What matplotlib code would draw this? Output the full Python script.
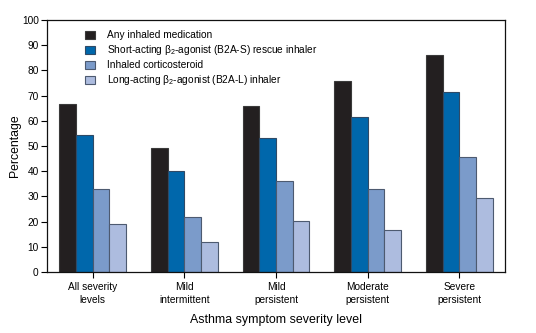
import matplotlib
matplotlib.use("Agg")
import matplotlib.pyplot as plt
import numpy as np

plt.rcParams['font.family'] = ['Liberation Sans', 'DejaVu Sans']
plt.rcParams['mathtext.fontset'] = 'custom'
plt.rcParams['mathtext.rm'] = 'Liberation Sans'
plt.rcParams['mathtext.it'] = 'Liberation Sans'

categories = ["All severity\nlevels", "Mild\nintermittent", "Mild\npersistent",
              "Moderate\npersistent", "Severe\npersistent"]
series_names = ["Any inhaled medication",
                "Short-acting β$_2$-agonist (B2A-S) rescue inhaler",
                "Inhaled corticosteroid",
                "Long-acting β$_2$-agonist (B2A-L) inhaler"]
any_inhaled = [66.5, 49.3, 65.7, 75.8, 86.3]
short_acting = [54.4, 40.0, 53.2, 61.4, 71.5]
corticosteroid = [33.0, 21.8, 36.1, 33.0, 45.8]
long_acting = [19.1, 12.1, 20.1, 16.5, 29.5]
yticks = list(range(0, 101, 10))

colors = ["#231f20", "#0067ab", "#7b9bca", "#adbcdf"]
edges = ["#3a3a3a", "#2f4a66", "#4d5a70", "#4d5a70"]

fig = plt.figure(figsize=(5.36, 3.33), dpi=100)
ax = fig.add_axes([47/536, 1 - 272/333, (505 - 47)/536, (272 - 20)/333])

x = np.arange(len(categories))
w = 0.182
all_series = [any_inhaled, short_acting, corticosteroid, long_acting]
for i, (vals, name) in enumerate(zip(all_series, series_names)):
    ax.bar(x + (i - 1.5) * w, vals, width=w, color=colors[i],
           edgecolor=edges[i], linewidth=0.8, label=name, zorder=2)

ax.set_xlim(-0.5, 4.5)
ax.set_ylim(0, 100)
ax.set_yticks(yticks)
ax.set_xticks(x)
ax.set_xticklabels(categories, fontsize=7.3, linespacing=1.35)
ax.tick_params(axis='y', labelsize=7.3, length=4, width=0.8, pad=2)
ax.tick_params(axis='x', length=4, width=0.8, pad=3)
for s in ax.spines.values():
    s.set_linewidth(0.9)
    s.set_color("#111111")

ax.set_ylabel("Percentage", fontsize=8.8)
ax.yaxis.set_label_coords(-26/458, 0.5)
ax.set_xlabel("Asthma symptom severity level", fontsize=8.9, labelpad=7)

leg = ax.legend(loc='upper left', bbox_to_anchor=(0.075, 0.975), frameon=False,
                fontsize=7.3, handlelength=0.9, handleheight=0.9,
                handletextpad=1.2, labelspacing=0.3, borderaxespad=0)

fig.savefig("out.png", dpi=100)
